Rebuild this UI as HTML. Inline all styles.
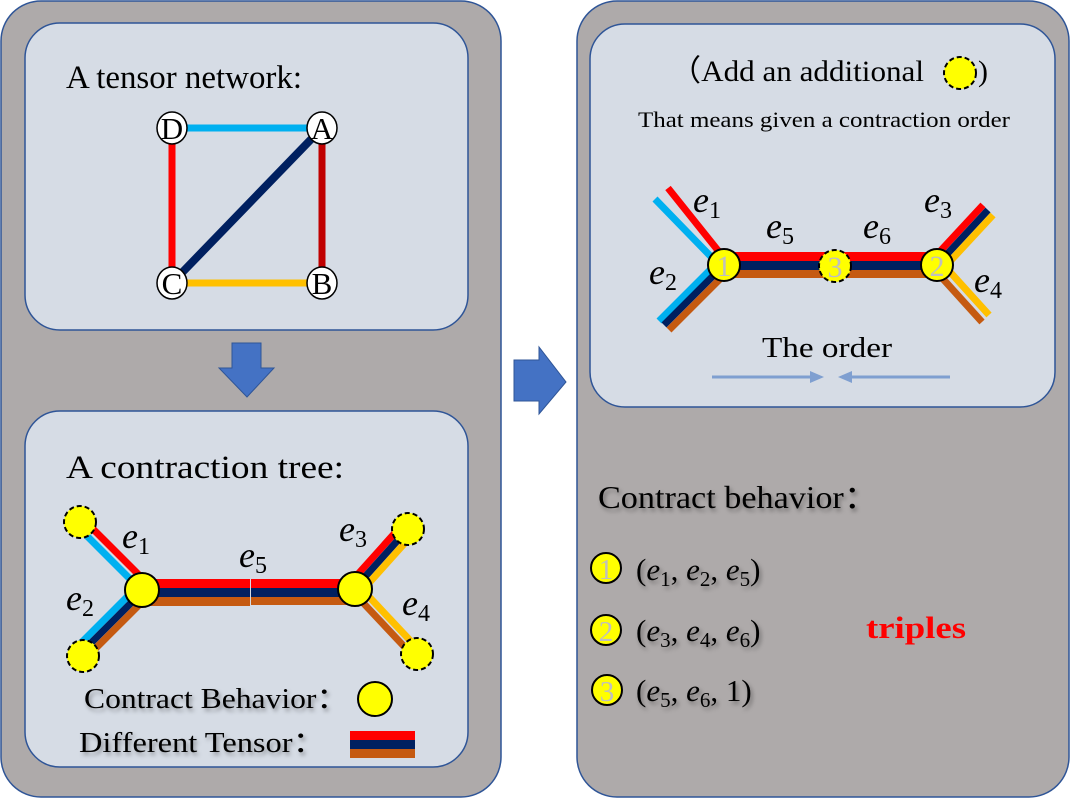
<!DOCTYPE html>
<html><head><meta charset="utf-8"><style>
html,body{margin:0;padding:0;background:#fff;}
svg{display:block;}
text{font-family:"Liberation Serif",serif;}
.m{font-style:italic;}
</style></head><body>
<svg width="1072" height="798" viewBox="0 0 1072 798" xmlns="http://www.w3.org/2000/svg">
<defs>
<filter id="sh" x="-10%" y="-10%" width="120%" height="140%"><feDropShadow dx="2" dy="3" stdDeviation="2" flood-color="#000" flood-opacity="0.35"/></filter>
</defs>
<rect x="1" y="1" width="500" height="796" rx="40" fill="#aeaaaa" stroke="#2f5597" stroke-width="1.5"/>
<rect x="577" y="1" width="492" height="796" rx="40" fill="#aeaaaa" stroke="#2f5597" stroke-width="1.5"/>
<rect x="25" y="23" width="443" height="307" rx="35" fill="#d6dce5" stroke="#2f5597" stroke-width="1.5"/>
<rect x="25" y="411" width="443" height="356" rx="35" fill="#d6dce5" stroke="#2f5597" stroke-width="1.5"/>
<rect x="590" y="24" width="465" height="383" rx="35" fill="#d6dce5" stroke="#2f5597" stroke-width="1.5"/>
<polygon points="232,343 261,343 261,368 274,368 247,397 219,368 232,368" fill="#4472c4" stroke="#2f5597"/>
<polygon points="514,360 539,360 539,347 566,382 539,414 539,401 514,401" fill="#4472c4" stroke="#2f5597"/>

<text x="66" y="88" font-size="33" textLength="236" lengthAdjust="spacingAndGlyphs">A tensor network:</text>
<g stroke-width="7">
<line x1="172" y1="128" x2="322" y2="128" stroke="#00b0f0"/>
<line x1="172" y1="128" x2="172" y2="283" stroke="#ff0000"/>
<line x1="322" y1="128" x2="322" y2="283" stroke="#c00000"/>
<line x1="172" y1="283" x2="322" y2="283" stroke="#ffc000"/>
<line x1="172" y1="283" x2="322" y2="128" stroke="#002060" stroke-width="8"/>
</g>
<g fill="#fff" stroke="#000" stroke-width="1.5">
<ellipse cx="172" cy="128" rx="15" ry="16"/><ellipse cx="322" cy="128" rx="15" ry="16"/>
<ellipse cx="172" cy="283" rx="15" ry="16"/><ellipse cx="322" cy="283" rx="15" ry="16"/>
</g>
<g font-size="31" text-anchor="middle">
<text x="172" y="139">D</text><text x="322" y="139">A</text><text x="172" y="294">C</text><text x="322" y="294">B</text>
</g>

<text x="66" y="478" font-size="33" textLength="278" lengthAdjust="spacingAndGlyphs">A contraction tree:</text>
<g stroke-width="7">
<line x1="145" y1="589" x2="81" y2="525" stroke="#ff0000" transform="translate(4,-4)"/>
<line x1="145" y1="589" x2="81" y2="525" stroke="#00b0f0" transform="translate(-2,3)"/>
<line x1="142" y1="592" x2="82" y2="652" stroke="#00b0f0" transform="translate(-5,-5)"/>
<line x1="142" y1="592" x2="82" y2="652" stroke="#002060"/>
<line x1="142" y1="592" x2="82" y2="652" stroke="#c55a11" transform="translate(5,5)"/>
<line x1="355" y1="588" x2="407" y2="530" stroke="#ff0000" transform="translate(-5,-5)"/>
<line x1="355" y1="588" x2="407" y2="530" stroke="#002060"/>
<line x1="355" y1="588" x2="407" y2="530" stroke="#ffc000" transform="translate(5,5)"/>
<line x1="355" y1="588" x2="417" y2="654" stroke="#ffc000" transform="translate(3,-3)"/>
<line x1="355" y1="588" x2="417" y2="654" stroke="#c55a11" transform="translate(-3,3)"/>
</g>
<rect x="142" y="579" width="108" height="9" fill="#ff0000"/><rect x="142" y="588" width="108" height="9" fill="#002060"/><rect x="142" y="597" width="108" height="9" fill="#c55a11"/>
<rect x="251" y="579" width="104" height="9" fill="#ff0000"/><rect x="251" y="588" width="104" height="9" fill="#002060"/><rect x="251" y="597" width="104" height="8" fill="#c55a11"/>
<g fill="#ffff00" stroke="#000" stroke-width="2" stroke-dasharray="5,3">
<circle cx="80" cy="522" r="16"/><circle cx="83" cy="656" r="16"/><circle cx="408" cy="529" r="16"/><circle cx="417" cy="654" r="16"/>
</g>
<g fill="#ffff00" stroke="#000" stroke-width="2">
<circle cx="142" cy="590" r="17"/><circle cx="355" cy="589" r="17"/>
</g>
<g font-size="36" class="m">
<text x="122" y="548">e<tspan font-size="24" dy="6" font-style="normal">1</tspan></text>
<text x="66" y="610">e<tspan font-size="24" dy="6" font-style="normal">2</tspan></text>
<text x="239" y="567">e<tspan font-size="24" dy="6" font-style="normal">5</tspan></text>
<text x="339" y="541">e<tspan font-size="24" dy="6" font-style="normal">3</tspan></text>
<text x="402" y="615">e<tspan font-size="24" dy="6" font-style="normal">4</tspan></text>
</g>
<g filter="url(#sh)" font-size="29">
<text x="84" y="708" textLength="264" lengthAdjust="spacingAndGlyphs">Contract Behavior：</text>
<text x="79" y="752" textLength="246" lengthAdjust="spacingAndGlyphs">Different Tensor：</text>
</g>
<circle cx="375" cy="699" r="17" fill="#ffff00" stroke="#000" stroke-width="2"/>
<rect x="350" y="731" width="65" height="9" fill="#ff0000"/><rect x="350" y="740" width="65" height="9" fill="#002060"/><rect x="350" y="749" width="65" height="9" fill="#c55a11"/>

<text x="670" y="81" font-size="30" textLength="254" lengthAdjust="spacingAndGlyphs">（Add an additional</text>
<circle cx="960" cy="73" r="16" fill="#ffff00" stroke="#000" stroke-width="2" stroke-dasharray="5,3"/>
<text x="978" y="81" font-size="30">)</text>
<text x="638" y="127" font-size="22" textLength="372" lengthAdjust="spacingAndGlyphs">That means given a contraction order</text>
<g stroke-width="7">
<line x1="724" y1="265" x2="664" y2="190" stroke="#ff0000" transform="translate(4,-2)"/>
<line x1="724" y1="265" x2="658" y2="197" stroke="#00b0f0" transform="translate(-3,2)"/>
<line x1="724" y1="265" x2="664" y2="325" stroke="#00b0f0" transform="translate(-5,-4)"/>
<line x1="724" y1="265" x2="664" y2="325" stroke="#002060"/>
<line x1="724" y1="265" x2="664" y2="325" stroke="#c55a11" transform="translate(5,5)"/>
<line x1="937" y1="265" x2="988" y2="210" stroke="#ff0000" transform="translate(-5,-5)"/>
<line x1="937" y1="265" x2="988" y2="210" stroke="#002060"/>
<line x1="937" y1="265" x2="988" y2="210" stroke="#ffc000" transform="translate(5,5)"/>
<line x1="937" y1="265" x2="985" y2="318" stroke="#ffc000" transform="translate(4,-3)"/>
<line x1="937" y1="265" x2="985" y2="318" stroke="#c55a11" transform="translate(-3,4)"/>
</g>
<rect x="724" y="252" width="213" height="9" fill="#ff0000"/><rect x="724" y="261" width="213" height="9" fill="#002060"/><rect x="724" y="270" width="213" height="8" fill="#c55a11"/>
<circle cx="835" cy="266" r="16" fill="#ffff00" stroke="#000" stroke-width="2" stroke-dasharray="5,3"/>
<circle cx="724" cy="265" r="16" fill="#ffff00" stroke="#000" stroke-width="2"/>
<circle cx="937" cy="265" r="16" fill="#ffff00" stroke="#000" stroke-width="2"/>
<g font-size="30" fill="#bfbfbf" text-anchor="middle">
<text x="724" y="276">1</text><text x="835" y="277">3</text><text x="937" y="276">2</text>
</g>
<g font-size="36" class="m">
<text x="693" y="212">e<tspan font-size="24" dy="6" font-style="normal">1</tspan></text>
<text x="649" y="284">e<tspan font-size="24" dy="6" font-style="normal">2</tspan></text>
<text x="766" y="238">e<tspan font-size="24" dy="6" font-style="normal">5</tspan></text>
<text x="863" y="238">e<tspan font-size="24" dy="6" font-style="normal">6</tspan></text>
<text x="924" y="212">e<tspan font-size="24" dy="6" font-style="normal">3</tspan></text>
<text x="974" y="292">e<tspan font-size="24" dy="6" font-style="normal">4</tspan></text>
</g>
<text x="762" y="357" font-size="28" textLength="130" lengthAdjust="spacingAndGlyphs">The order</text>
<g stroke="#7f9fd0" stroke-width="3" fill="#7f9fd0">
<line x1="712" y1="377" x2="812" y2="377"/><polygon points="810,371 824,377 810,383" stroke="none"/>
<line x1="850" y1="377" x2="950" y2="377"/><polygon points="852,371 838,377 852,383" stroke="none"/>
</g>

<g filter="url(#sh)">
<text x="598" y="508" font-size="32" textLength="280" lengthAdjust="spacingAndGlyphs">Contract behavior：</text>
<g font-size="31">
<text x="636" y="580">(<tspan class="m">e</tspan><tspan font-size="21" dy="6">1</tspan><tspan dy="-6">, </tspan><tspan class="m">e</tspan><tspan font-size="21" dy="6">2</tspan><tspan dy="-6">, </tspan><tspan class="m">e</tspan><tspan font-size="21" dy="6">5</tspan><tspan dy="-6">)</tspan></text>
<text x="636" y="641">(<tspan class="m">e</tspan><tspan font-size="21" dy="6">3</tspan><tspan dy="-6">, </tspan><tspan class="m">e</tspan><tspan font-size="21" dy="6">4</tspan><tspan dy="-6">, </tspan><tspan class="m">e</tspan><tspan font-size="21" dy="6">6</tspan><tspan dy="-6">)</tspan></text>
<text x="636" y="701">(<tspan class="m">e</tspan><tspan font-size="21" dy="6">5</tspan><tspan dy="-6">, </tspan><tspan class="m">e</tspan><tspan font-size="21" dy="6">6</tspan><tspan dy="-6">, 1)</tspan></text>
</g>
</g>
<g fill="#ffff00" stroke="#000" stroke-width="2">
<circle cx="606" cy="568" r="15"/><circle cx="606" cy="630" r="15"/><circle cx="607" cy="690" r="15"/>
</g>
<g font-size="29" fill="#bfbfbf" text-anchor="middle">
<text x="606" y="579">1</text><text x="606" y="641">2</text><text x="607" y="701">3</text>
</g>
<text x="866" y="638" font-size="31" font-weight="bold" fill="#ff0000" textLength="100" lengthAdjust="spacingAndGlyphs">triples</text>
</svg>
</body></html>
